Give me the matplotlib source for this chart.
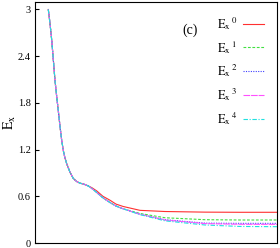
import numpy as np
import matplotlib
matplotlib.use('Agg')
import matplotlib.pyplot as plt

plt.rcParams['font.family'] = 'Liberation Serif'
plt.rcParams['mathtext.fontset'] = 'stix'

# x positions (arbitrary units 0..100) and values
x = [5.5, 6.2, 6.9, 7.56, 8.26, 8.97, 9.63, 10.33, 11.03, 11.69, 12.4, 13.1,
     14.46, 15.83, 17.23, 18.6, 20.25, 21.9,
     23.55, 25.5, 28.1, 31.0, 33.5, 36.4, 43.4, 53.7, 70.2, 84.7, 100]
common = [3.0, 2.82, 2.61, 2.36, 2.09, 1.88, 1.70, 1.50, 1.32, 1.19, 1.09, 1.02,
          0.91, 0.83, 0.79, 0.77, 0.755, 0.735]
ex0 = common + [0.71, 0.67, 0.60, 0.55, 0.50, 0.47, 0.42, 0.405, 0.397, 0.395, 0.395]
ex1 = common + [0.70, 0.65, 0.58, 0.52, 0.475, 0.44, 0.38, 0.325, 0.30, 0.296, 0.296]
ex2 = common + [0.70, 0.65, 0.58, 0.52, 0.475, 0.44, 0.37, 0.30, 0.256, 0.253, 0.253]
ex3 = common + [0.70, 0.65, 0.58, 0.52, 0.475, 0.44, 0.37, 0.295, 0.25, 0.241, 0.24]
ex4 = common + [0.70, 0.65, 0.58, 0.52, 0.475, 0.44, 0.365, 0.285, 0.232, 0.213, 0.21]
series = [ex0, ex1, ex2, ex3, ex4]
labels = [r'$\mathrm{E_x}^{\,%d}$' % i for i in range(5)]
colors = ['#ff3030', '#40e040', '#4040ff', '#ff50ff', '#20e0e0']
styles = ['-', (0, (2.5, 1.5)), (0, (1, 1.2)), (0, (6, 0.8)), (0, (4, 1.5, 1, 1.5))]

fig = plt.figure(figsize=(2.8, 2.48), dpi=100)
ax = fig.add_axes([0.125, 0.02, 0.864, 0.97])

for y, lab, c, ls in zip(series, labels, colors, styles):
    ax.plot(x, y, color=c, ls=ls, lw=0.8, label=lab)

ax.set_xlim(0, 100)
ax.set_ylim(0, 3.09)
ax.set_xticks([])
ax.set_yticks([0, 0.6, 1.2, 1.8, 2.4, 3])
ax.set_yticklabels(['0', '0.6', '1.2', '1.8', '2.4', '3'])
ax.tick_params(axis='y', direction='in', length=3, labelsize=7.5, pad=3)
ax.set_ylabel(r'$\mathrm{E_x}$', fontsize=10)
ax.yaxis.set_label_coords(-0.07, 0.5)

ax.text(0.64, 0.886, '(c)', transform=ax.transAxes, fontsize=10,
        ha='center', va='center')

ax.legend(loc='upper right', bbox_to_anchor=(1.0, 1.0), frameon=False,
          markerfirst=False, handlelength=1.7, fontsize=9,
          labelspacing=0.55, handletextpad=0.5, borderaxespad=0.6)

fig.savefig('out.png', dpi=100)
